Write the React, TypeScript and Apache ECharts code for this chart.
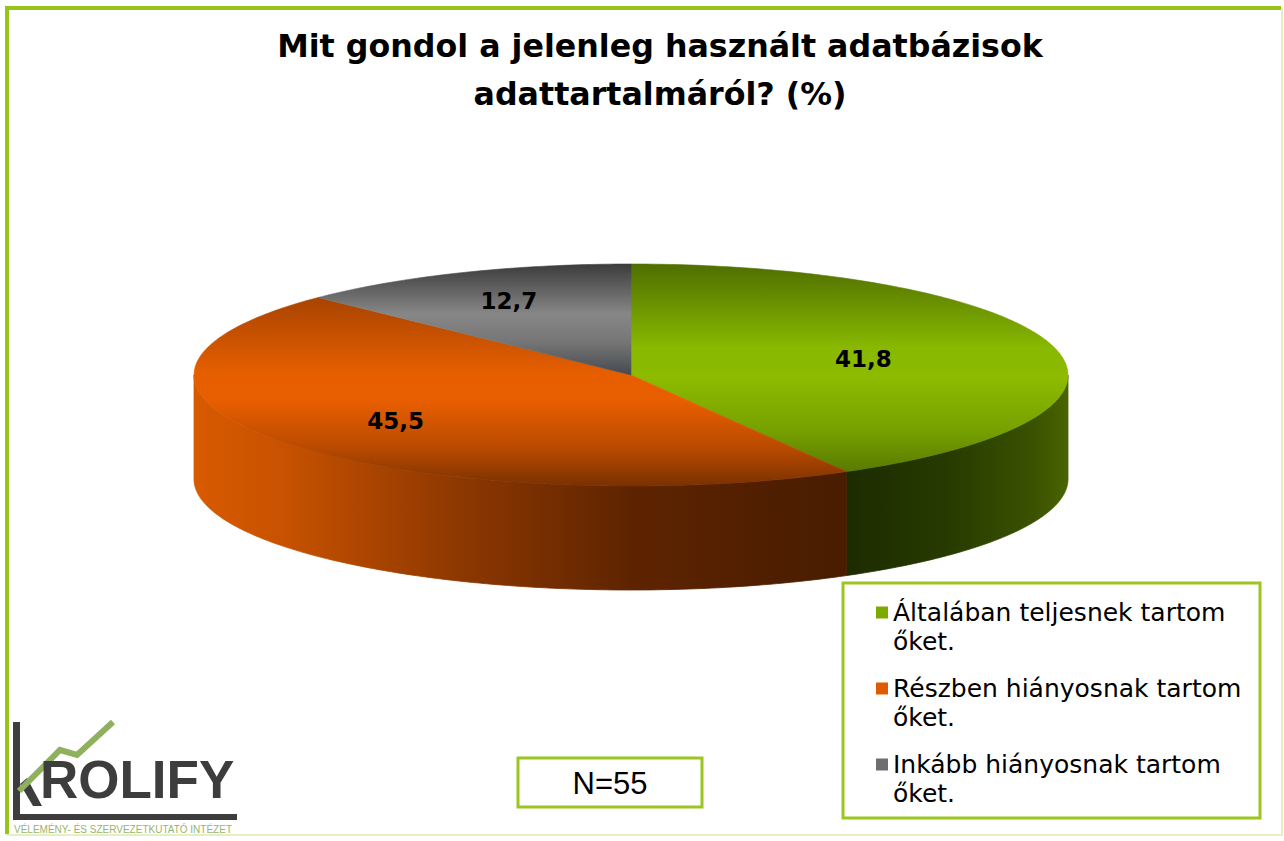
import React, { useEffect, useRef } from 'react';
import * as echarts from 'echarts';

// ---- data ----
const CATEGORIES = [
  'Általában teljesnek tartom őket.',
  'Részben hiányosnak tartom őket.',
  'Inkább hiányosnak tartom őket.',
];
const VALUES = [41.8, 45.5, 12.7];
const TITLE = 'Mit gondol a jelenleg használt adatbázisok\nadattartalmáról? (%)';
const SAMPLE_NOTE = 'N=55';
const LOGO_NAME = 'ROLIFY';
const LOGO_SUB = 'VÉLEMÉNY- ÉS SZERVEZETKUTATÓ INTÉZET';

// ---- layout / style ----
const CX = 631;
const CY = 375;
const RX = 437;
const RY = 111;
const DEPTH = 104;
const LABEL_R = [0.55, 0.68, 0.72];

const LEGEND_COLORS = ['#7cab00', '#e05a00', '#6e6e6e'];
const TOP_STOPS: [number, string][][] = [
  [[0, '#4f6e00'], [0.4, '#88b800'], [0.55, '#8cbb00'], [0.8, '#77a100'], [1, '#5a7a00']],
  [[0, '#a84400'], [0.4, '#e65e00'], [0.55, '#e85e00'], [0.8, '#b94a00'], [1, '#7a3100']],
  [[0, '#3c3c3c'], [0.45, '#878787'], [0.7, '#767676'], [1, '#454a50']],
];
const SIDE_STOPS: [number, string][][] = [
  [[0, '#1c2b00'], [0.74, '#1c2b00'], [0.86, '#263a00'], [0.96, '#3a5200'], [1, '#4a6400']],
  [[0, '#d85a00'], [0.1, '#c85200'], [0.3, '#8e3800'], [0.5, '#5e2400'], [0.7, '#4c1d00'], [1, '#3f1800']],
  [[0, '#555555'], [1, '#333333']],
];

const fmt = (v: number) => v.toFixed(1).replace('.', ',');

const grad = (stops: [number, string][], x0: number, y0: number, x1: number, y1: number, global: boolean) =>
  new echarts.graphic.LinearGradient(
    x0, y0, x1, y1,
    stops.map(([offset, color]) => ({ offset, color })),
    global
  );

const makeRender = (idx: number) => (params: any, api: any) => {
  const total = VALUES.reduce((a, b) => a + b, 0);
  let before = 0;
  for (let k = 0; k < idx; k++) before += VALUES[k];
  const v = api.value(0);
  const a0 = (before / total) * Math.PI * 2;
  const a1 = ((before + v) / total) * Math.PI * 2;
  const pt = (t: number, dy: number) => [CX + RX * Math.sin(t), CY - RY * Math.cos(t) + dy];
  const arc = (s: number, e: number, dy: number) => {
    const n = Math.max(2, Math.ceil(Math.abs(e - s) / (Math.PI / 180)));
    const out: number[][] = [];
    for (let i = 0; i <= n; i++) out.push(pt(s + ((e - s) * i) / n, dy));
    return out;
  };
  const children: any[] = [];
  const s = Math.max(a0, Math.PI / 2);
  const e = Math.min(a1, (Math.PI * 3) / 2);
  if (e > s) {
    const g = grad(SIDE_STOPS[idx], CX - RX, 0, CX + RX, 0, true);
    children.push({
      type: 'polygon',
      z2: 1,
      shape: { points: [...arc(s, e, 0), ...arc(e, s, DEPTH)] },
      style: { fill: g, stroke: g, lineWidth: 0.8 },
    });
  }
  const tg = grad(TOP_STOPS[idx], 0, 0, 0, 1, false);
  children.push({
    type: 'polygon',
    z2: 5,
    shape: { points: [[CX, CY], ...arc(a0, a1, 0)] },
    style: { fill: tg, stroke: tg, lineWidth: 0.6 },
  });
  const mid = (a0 + a1) / 2;
  const f = LABEL_R[idx];
  children.push({
    type: 'text',
    z2: 10,
    style: {
      text: fmt(v),
      x: CX + RX * f * Math.sin(mid),
      y: CY - RY * f * Math.cos(mid),
      align: 'center',
      verticalAlign: 'middle',
      fontFamily: 'DejaVu Sans',
      fontWeight: 'bold',
      fontSize: 23,
      fill: '#000',
    },
  });
  return { type: 'group', children };
};

export default function App() {
  const ref = useRef<HTMLDivElement>(null);
  useEffect(() => {
    if (!ref.current) return;
    const chart = echarts.init(ref.current, undefined, { renderer: 'svg' });
    const green = '#97c31d';
    chart.setOption({
      animation: false,
      backgroundColor: '#ffffff',
      title: {
        text: TITLE,
        left: 660,
        top: 22,
        padding: 0,
        textAlign: 'center',
        textStyle: {
          fontFamily: 'DejaVu Sans',
          fontWeight: 'bold',
          fontSize: 31.7,
          lineHeight: 48,
          color: '#000',
        },
      },
      legend: {
        orient: 'vertical',
        left: 876,
        top: 569,
        padding: 0,
        itemWidth: 12,
        itemHeight: 12,
        itemGap: -11,
        icon: 'rect',
        selectedMode: false,
        data: CATEGORIES,
        formatter: (name: string) => '\n' + name.replace(' őket.', '\nőket.'),
        textStyle: {
          fontFamily: 'DejaVu Sans',
          fontSize: 25,
          lineHeight: 29,
          color: '#000',
        },
      },
      graphic: [
        { type: 'rect', silent: true, shape: { x: 7, y: 8, width: 1275, height: 827 }, style: { fill: 'none', stroke: '#dcebab', lineWidth: 1.5 } },
        { type: 'line', silent: true, shape: { x1: 7, y1: 6, x2: 7, y2: 834 }, style: { stroke: green, lineWidth: 4 } },
        { type: 'line', silent: true, shape: { x1: 5, y1: 8, x2: 1281, y2: 8 }, style: { stroke: green, lineWidth: 4 } },
        { type: 'rect', silent: true, shape: { x: 843, y: 583, width: 417, height: 235 }, style: { fill: 'none', stroke: '#9cc520', lineWidth: 3 } },
        { type: 'rect', silent: true, shape: { x: 518, y: 758, width: 184, height: 49 }, style: { fill: '#fff', stroke: '#9cc520', lineWidth: 3 } },
        {
          type: 'text', silent: true,
          style: { text: SAMPLE_NOTE, x: 610, y: 783, align: 'center', verticalAlign: 'middle', fontFamily: 'Liberation Sans', fontSize: 31, fill: '#000' },
        },
        // logo
        { type: 'rect', silent: true, shape: { x: 13, y: 722, width: 7, height: 98 }, style: { fill: '#3d3d3d' } },
        { type: 'rect', silent: true, shape: { x: 13, y: 814, width: 224, height: 6 }, style: { fill: '#3d3d3d' } },
        { type: 'polygon', silent: true, shape: { points: [[20, 784], [27, 778], [42, 806], [33, 806]] }, style: { fill: '#3d3d3d' } },
        { type: 'polyline', silent: true, shape: { points: [[19, 791], [60, 750], [77, 755], [113, 722]] }, style: { stroke: '#8fb05c', lineWidth: 6, lineJoin: 'miter' } },
        {
          type: 'text', silent: true,
          style: { text: LOGO_NAME, x: 40, y: 806, align: 'left', verticalAlign: 'bottom', fontFamily: 'Liberation Sans', fontWeight: 'bold', fontSize: 53, fill: '#3d3d3d' },
        },
        {
          type: 'text', silent: true,
          style: { text: LOGO_SUB, x: 14, y: 829, align: 'left', verticalAlign: 'middle', fontFamily: 'Liberation Sans', fontSize: 10, fill: '#98b56a' },
        },
      ],
      series: CATEGORIES.map((name, idx) => ({
        type: 'custom',
        name,
        coordinateSystem: 'none',
        itemStyle: { color: LEGEND_COLORS[idx] },
        data: [[VALUES[idx]]],
        renderItem: makeRender(idx),
      })),
    });
    return () => chart.dispose();
  }, []);
  return <div ref={ref} style={{ position: 'absolute', left: 0, top: 0, width: 1284, height: 841 }} />;
}
